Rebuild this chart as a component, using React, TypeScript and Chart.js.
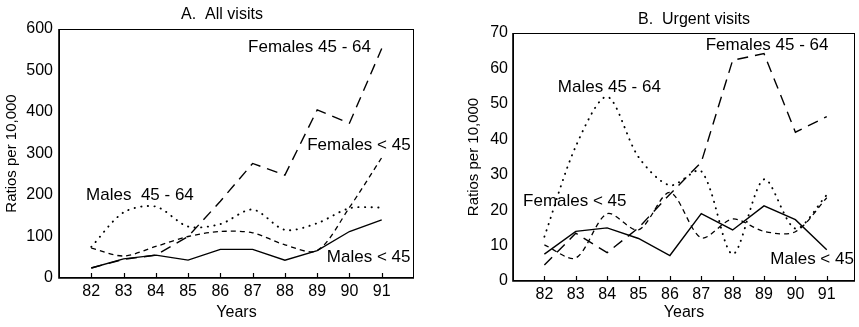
import React, { useEffect, useRef } from "react";
import { Chart, registerables } from "chart.js";
Chart.register(...registerables);

const years = [82, 83, 84, 85, 86, 87, 88, 89, 90, 91];

// A. All visits (ratios per 10,000)
const allMalesUnder45 = [24, 46, 55, 43, 69, 69, 43, 66, 112, 140];
const allMales45to64 = [75, 158, 172, 124, 130, 165, 116, 132, 168, 170];
const allFemalesUnder45 = [72, 53, 76, 100, 112, 109, 80, 66, 170, 290];
const allFemales45to64 = [24, 45, 55, 100, 185, 276, 248, 405, 373, 553];

// B. Urgent visits (ratios per 10,000)
const urgMalesUnder45 = [7.6, 14, 15, 12, 7.2, 19, 14.4, 21.2, 17.3, 8.8];
const urgMales45to64 = [12.5, 38, 52, 35, 27, 31, 7.6, 28.7, 14.8, 24.3];
const urgFemalesUnder45 = [10.2, 6.5, 19, 14.4, 25, 12.2, 17.5, 14, 13.9, 23.5];
const urgFemales45to64 = [4.5, 13.5, 8, 15, 24.5, 33.5, 62.3, 64.2, 42, 46.4];

const seriesNames = ["Males < 45", "Males 45 - 64", "Females < 45", "Females 45 - 64"];

const FONT = "'Liberation Sans', Arial, Helvetica, sans-serif";

type Label = { text: string; x: number; y: number };

const allLabels: Label[] = [
  { text: "Females 45 - 64", x: 86.86, y: 557 },
  { text: "Females < 45", x: 88.69, y: 320 },
  { text: "Males  45 - 64", x: 81.84, y: 200 },
  { text: "Males < 45", x: 89.3, y: 49 },
];
const urgLabels: Label[] = [
  { text: "Females 45 - 64", x: 87.14, y: 66.6 },
  { text: "Males 45 - 64", x: 82.43, y: 54.8 },
  { text: "Females < 45", x: 81.32, y: 22.4 },
  { text: "Males < 45", x: 89.2, y: 6.1 },
];

const styles = [
  { borderDash: [] as number[], borderWidth: 1.4, tension: 0, cap: "butt" },
  { borderDash: [0.3, 6.3], borderWidth: 1.9, tension: 0.3, cap: "round" },
  { borderDash: [5, 4], borderWidth: 1.3, tension: 0.3, cap: "butt" },
  { borderDash: [11, 7], borderWidth: 1.4, tension: 0, cap: "butt" },
];

const decorPlugin = {
  id: "decor",
  afterDatasetsDraw(chart: any, _args: any, opts: any) {
    const { ctx, chartArea } = chart;
    const { left, right, top, bottom } = chartArea;
    const xs = chart.scales.x;
    const ys = chart.scales.y;
    ctx.save();
    ctx.strokeStyle = "#000";
    ctx.lineWidth = 1;
    ctx.strokeRect(left + 0.5, top + 0.5, right - left - 1, bottom - top - 1);
    ctx.lineWidth = 1.6;
    ctx.beginPath();
    ctx.moveTo(left, top);
    ctx.lineTo(left, bottom);
    ctx.lineTo(right, bottom);
    ctx.stroke();
    ctx.lineWidth = 1.2;
    years.forEach((yr) => {
      const px = Math.round(xs.getPixelForValue(yr)) + 0.5;
      ctx.beginPath();
      ctx.moveTo(px, bottom);
      ctx.lineTo(px, bottom - 5);
      ctx.stroke();
    });
    ctx.fillStyle = "#000";
    ctx.font = `16px ${FONT}`;
    ctx.textAlign = "center";
    ctx.textBaseline = "middle";
    ctx.fillText(opts.title, opts.titleX, opts.titleY);
    ctx.font = `17px ${FONT}`;
    ctx.textAlign = "left";
    (opts.labels as Label[]).forEach((l) => {
      ctx.fillText(l.text, xs.getPixelForValue(l.x), ys.getPixelForValue(l.y));
    });
    ctx.restore();
  },
};

function makeConfig(
  values: number[][],
  yMax: number,
  yStep: number,
  xMax: number,
  yAxisWidth: number,
  xAxisHeight: number,
  padRight: number,
  padTop: number,
  yTitlePad: number,
  yTickPad: number,
  title: string,
  titleX: number,
  titleY: number,
  labels: Label[]
): any {
  return {
    type: "line",
    data: {
      datasets: values.map((vals, i) => ({
        label: seriesNames[i],
        data: years.map((yr, j) => ({ x: yr, y: vals[j] })),
        borderColor: "#000",
        backgroundColor: "#000",
        borderWidth: styles[i].borderWidth,
        borderDash: styles[i].borderDash,
        borderCapStyle: styles[i].cap,
        tension: styles[i].tension,
        pointRadius: 0,
        fill: false,
      })),
    },
    options: {
      responsive: false,
      animation: false,
      layout: { padding: { left: 0, right: padRight, top: padTop, bottom: 0 } },
      plugins: {
        legend: { display: false },
        tooltip: { enabled: false },
        decor: { title, titleX, titleY, labels },
      },
      scales: {
        x: {
          type: "linear",
          min: 81,
          max: xMax,
          grid: { display: false, drawTicks: false },
          border: { display: false },
          afterBuildTicks: (s: any) => {
            s.ticks = years.map((v) => ({ value: v }));
          },
          afterFit: (s: any) => {
            s.height = xAxisHeight;
          },
          ticks: {
            autoSkip: false,
            maxRotation: 0,
            padding: 4,
            color: "#000",
            font: { family: FONT, size: 16 },
            callback: (v: any) => String(v),
          },
          title: {
            display: true,
            text: "Years",
            color: "#000",
            font: { family: FONT, size: 16 },
            padding: { top: 0, bottom: 5 },
          },
        },
        y: {
          min: 0,
          max: yMax,
          grid: { display: false, drawTicks: false },
          border: { display: false },
          afterFit: (s: any) => {
            s.width = yAxisWidth;
          },
          ticks: {
            stepSize: yStep,
            padding: yTickPad,
            color: "#000",
            font: { family: FONT, size: 16 },
          },
          title: {
            display: true,
            text: "Ratios per 10,000",
            color: "#000",
            font: { family: FONT, size: 15 },
            padding: { top: yTitlePad, bottom: 0 },
          },
        },
      },
    },
    plugins: [decorPlugin],
  };
}

function ChartBox(props: { width: number; config: () => any }) {
  const ref = useRef<HTMLCanvasElement | null>(null);
  useEffect(() => {
    if (!ref.current) return;
    const chart = new Chart(ref.current, props.config());
    return () => chart.destroy();
  }, []);
  return <canvas ref={ref} width={props.width} height={327} style={{ display: "block" }} />;
}

export default function App() {
  return (
    <div
      style={{
        position: "absolute",
        left: 0,
        top: 0,
        width: 859,
        height: 327,
        display: "flex",
        background: "#fff",
      }}
    >
      <ChartBox
        width={430}
        config={() =>
          makeConfig(
            [allMalesUnder45, allMales45to64, allFemalesUnder45, allFemales45to64],
            600,
            100,
            92,
            59,
            49,
            16,
            29,
            3,
            6,
            "A.  All visits",
            222,
            15,
            allLabels
          )
        }
      />
      <ChartBox
        width={429}
        config={() =>
          makeConfig(
            [urgMalesUnder45, urgMales45to64, urgFemalesUnder45, urgFemales45to64],
            70,
            10,
            91.9,
            83,
            46,
            4,
            33,
            35,
            5,
            "B.  Urgent visits",
            264,
            20,
            urgLabels
          )
        }
      />
    </div>
  );
}
